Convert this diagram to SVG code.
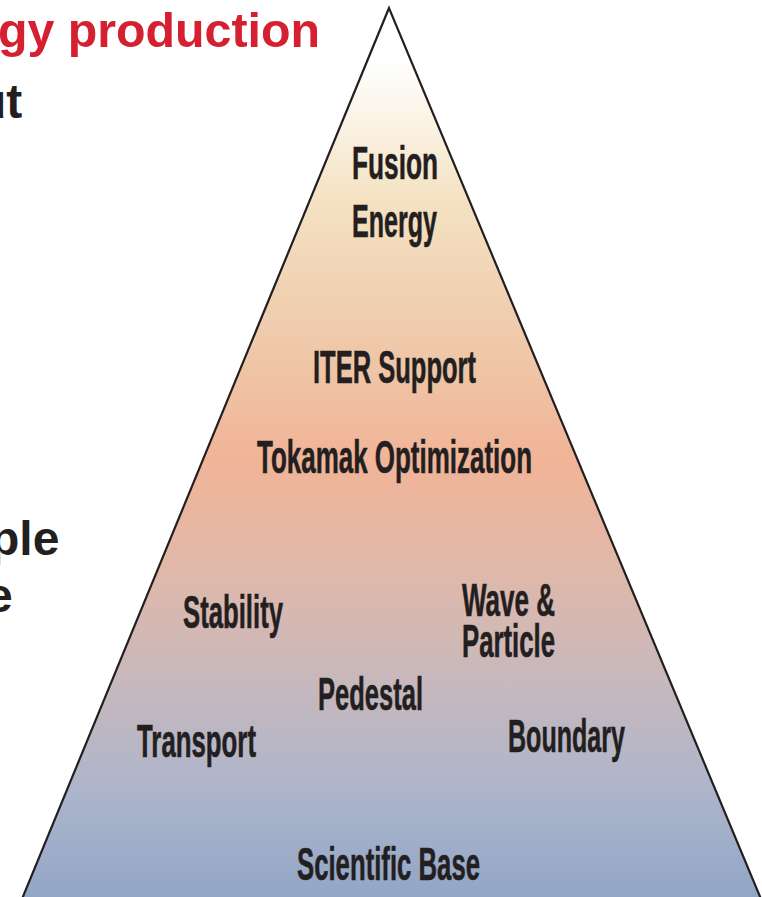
<svg xmlns="http://www.w3.org/2000/svg" width="762" height="897" viewBox="0 0 762 897">
  <defs>
    <linearGradient id="pyramidFill" gradientUnits="userSpaceOnUse" x1="0" y1="8" x2="0" y2="897">
      <stop offset="0" stop-color="#FFFFFF"/>
      <stop offset="0.06" stop-color="#FFFFFF"/>
      <stop offset="0.216" stop-color="#F4E2C2"/>
      <stop offset="0.351" stop-color="#EFCDAE"/>
      <stop offset="0.508" stop-color="#F1B497"/>
      <stop offset="0.62" stop-color="#E2B8A8"/>
      <stop offset="0.756" stop-color="#C8B8BC"/>
      <stop offset="0.88" stop-color="#ADB5CB"/>
      <stop offset="1" stop-color="#92A6C7"/>
    </linearGradient>
    <style>
      .lbl { font-family: "Liberation Sans", Arial, sans-serif; font-weight: bold; font-size: 47px; fill: #231F20; stroke: #231F20; stroke-width: 0.6px; }
      .side { font-family: "Liberation Sans", Arial, sans-serif; font-weight: bold; font-size: 48px; }
      .red { fill: #D42030; }
      .dark { fill: #231F20; }
    </style>
  </defs>

  <rect width="762" height="897" fill="#FFFFFF"/>

  <!-- heading fragments to the left of the pyramid -->
  <g id="side-text">
    <text class="side red" x="-2" y="47" textLength="322" lengthAdjust="spacingAndGlyphs">gy production</text>
    <text class="side dark" x="-23" y="118">ut</text>
    <text class="side dark" x="-10" y="555">ple</text>
    <text class="side dark" x="-14" y="612">e</text>
  </g>

  <!-- pyramid body -->
  <g id="pyramid">
    <polygon points="389,8 22,899 761,899" fill="url(#pyramidFill)" stroke="#231F20" stroke-width="2.2" stroke-linejoin="miter"/>
  </g>

  <g id="fusion-energy">
    <text class="lbl" x="352" y="179" textLength="86" lengthAdjust="spacingAndGlyphs">Fusion</text>
    <text class="lbl" x="352" y="237" textLength="85" lengthAdjust="spacingAndGlyphs">Energy</text>
  </g>
  <g id="iter-support">
    <text class="lbl" x="313" y="383" textLength="163" lengthAdjust="spacingAndGlyphs">ITER Support</text>
  </g>
  <g id="tokamak-optimization">
    <text class="lbl" x="257" y="473" textLength="275" lengthAdjust="spacingAndGlyphs">Tokamak Optimization</text>
  </g>
  <g id="stability">
    <text class="lbl" x="183" y="628" textLength="100" lengthAdjust="spacingAndGlyphs">Stability</text>
  </g>
  <g id="wave-particle">
    <text class="lbl" x="462" y="616" textLength="93" lengthAdjust="spacingAndGlyphs">Wave &amp;</text>
    <text class="lbl" x="462" y="657" textLength="93" lengthAdjust="spacingAndGlyphs">Particle</text>
  </g>
  <g id="pedestal">
    <text class="lbl" x="318" y="710" textLength="105" lengthAdjust="spacingAndGlyphs">Pedestal</text>
  </g>
  <g id="transport">
    <text class="lbl" x="137" y="757" textLength="119" lengthAdjust="spacingAndGlyphs">Transport</text>
  </g>
  <g id="boundary">
    <text class="lbl" x="508" y="752" textLength="117" lengthAdjust="spacingAndGlyphs">Boundary</text>
  </g>
  <g id="scientific-base">
    <text class="lbl" x="297" y="880" textLength="183" lengthAdjust="spacingAndGlyphs">Scientific Base</text>
  </g>

  <g id="connectors"/>
</svg>
